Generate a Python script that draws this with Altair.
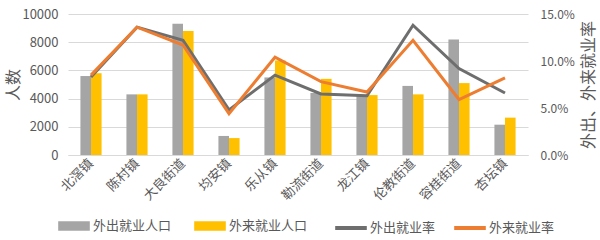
import altair as alt
import pandas as pd

towns = ["北滘镇", "陈村镇", "大良街道", "均安镇", "乐从镇", "勒流街道", "龙江镇", "伦教街道", "容桂街道", "杏坛镇"]
out_pop = [5600, 4300, 9300, 1350, 5500, 4400, 4250, 4900, 8200, 2150]
in_pop = [5800, 4300, 8800, 1200, 6700, 5400, 4250, 4300, 5100, 2650]
out_rate = [8.3, 13.6, 12.2, 4.8, 8.5, 6.5, 6.3, 13.8, 9.2, 6.6]
in_rate = [8.5, 13.6, 11.7, 4.4, 10.4, 7.8, 6.7, 12.2, 5.9, 8.2]

bar_names = ["外出就业人口", "外来就业人口"]
line_names = ["外出就业率", "外来就业率"]

bar_df = pd.DataFrame(
    [{"town": t, "series": bar_names[0], "value": v} for t, v in zip(towns, out_pop)]
    + [{"town": t, "series": bar_names[1], "value": v} for t, v in zip(towns, in_pop)]
)
line_df = pd.DataFrame(
    [{"town": t, "series": line_names[0], "rate": r / 100} for t, r in zip(towns, out_rate)]
    + [{"town": t, "series": line_names[1], "rate": r / 100} for t, r in zip(towns, in_rate)]
)

FONT = "Noto Sans CJK SC"
TXT = "#595959"

x_enc = alt.X(
    "town:N", sort=towns, title=None,
    scale=alt.Scale(paddingInner=0.54, paddingOuter=0.27),
    axis=alt.Axis(labelAngle=315, labelAlign="right", labelBaseline="middle",
                  labelFontSize=13, labelColor=TXT, labelFont=FONT, ticks=False,
                  domainColor="#D9D9D9", labelPadding=6),
)

bars = alt.Chart(bar_df).mark_bar().encode(
    x=x_enc,
    xOffset=alt.XOffset("series:N", sort=bar_names),
    y=alt.Y("value:Q", scale=alt.Scale(domain=[0, 10000]),
            axis=alt.Axis(values=[0, 2000, 4000, 6000, 8000, 10000], format="d", title="人数",
                          titleFontSize=16, titleFont=FONT, titleColor=TXT, titleFontWeight="normal",
                          labelFontSize=13, labelColor=TXT, labelFont=FONT, ticks=False, domain=False,
                          gridColor="#D9D9D9", labelPadding=10, titlePadding=0)),
    color=alt.Color("series:N", sort=bar_names,
                    scale=alt.Scale(domain=bar_names, range=["#A5A5A5", "#FFC000"]),
                    legend=alt.Legend(orient="none", legendX=-10, legendY=196, direction="horizontal",
                                      title=None, symbolType="M-1,-0.3H1V0.3H-1Z", symbolSize=1000,
                                      symbolStrokeWidth=0, labelFontSize=13, labelColor=TXT, labelFont=FONT,
                                      columnPadding=22, labelOffset=3)),
)

lines = alt.Chart(line_df).mark_line(strokeWidth=3).encode(
    x=alt.X("town:N", sort=towns),
    y=alt.Y("rate:Q", scale=alt.Scale(domain=[0, 0.15]),
            axis=alt.Axis(orient="right", values=[0, 0.05, 0.1, 0.15], format=".1%", grid=False,
                          title="外出、外来就业率", titleAngle=270, titleBaseline="top",
                          titleFontSize=16, titleFont=FONT, titleColor=TXT, titleFontWeight="normal",
                          labelFontSize=12, labelColor=TXT, labelFont=FONT, ticks=False, domain=False,
                          labelPadding=12, titlePadding=6)),
    stroke=alt.Stroke("series:N", sort=line_names,
                      scale=alt.Scale(domain=line_names, range=["#6E6E6E", "#ED7D31"]),
                      legend=alt.Legend(orient="none", legendX=265, legendY=196, direction="horizontal",
                                        title=None, symbolType="stroke", symbolSize=1000,
                                        symbolStrokeWidth=4, labelFontSize=13, labelColor=TXT, labelFont=FONT,
                                        columnPadding=10, labelOffset=1)),
)

chart = alt.layer(bars, lines).resolve_scale(y="independent").properties(
    width=460, height=141,
    padding={"left": 68, "top": 14, "right": 72, "bottom": 85},
    autosize=alt.AutoSizeParams(type="none"),
).configure_view(stroke=None)

chart.save("out.html", embed_options={"renderer": "svg", "actions": False})
